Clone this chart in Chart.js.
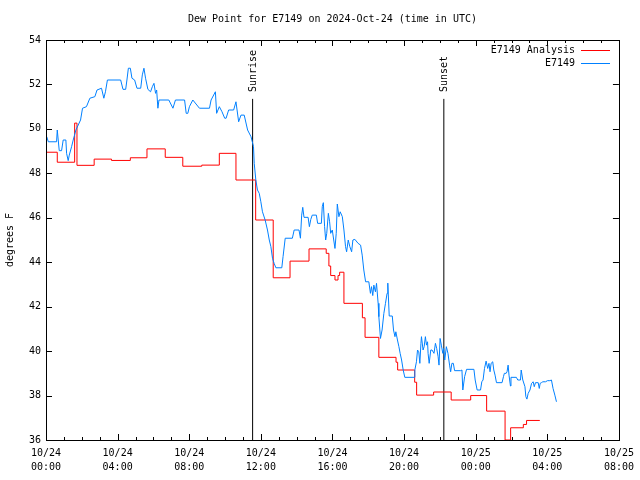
<!DOCTYPE html>
<html>
<head>
<meta charset="utf-8">
<script src="https://cdn.jsdelivr.net/npm/chart.js@4.4.1/dist/chart.umd.min.js"></script>
<style>
  html, body { margin: 0; padding: 0; background: #fff; }
  canvas { display: block; }
</style>
</head>
<body>
<canvas id="chart" width="640" height="480"></canvas>
<script>
// Dew point for E7149, 2024-10-24 (hours since 10/24 00:00 UTC, degrees F)

const TITLE = "Dew Point for E7149 on 2024-Oct-24 (time in UTC)";
const Y_LABEL = "degrees F";
const FONT = "10px 'DejaVu Sans Mono', monospace";

const xTickDates = ["10/24", "10/24", "10/24", "10/24", "10/24", "10/24", "10/25", "10/25", "10/25"];
const xTickTimes = ["00:00", "04:00", "08:00", "12:00", "16:00", "20:00", "00:00", "04:00", "08:00"];

const seriesNames = ["E7149 Analysis", "E7149"];
const seriesColors = ["#ff0000", "#0080ff"];

const sunLabels = ["Sunrise", "Sunset"];
const sunHours = [11.54, 22.22];
const sunLineTop = 51.35;

// analysis is a step series: each value holds until the next hour listed
const analysisSteps = [
  [0.00, 48.95], [0.63, 48.5], [1.60, 50.26], [1.73, 48.36], [2.69, 48.64],
  [3.66, 48.58], [4.71, 48.7], [5.64, 49.1], [6.66, 48.72], [7.64, 48.32],
  [8.70, 48.37], [9.68, 48.9], [10.61, 47.7], [11.71, 45.9], [12.69, 43.3],
  [13.63, 44.05], [14.69, 44.6], [15.65, 44.4], [15.80, 43.83], [15.90, 43.4],
  [16.14, 43.2], [16.31, 43.4], [16.40, 43.55], [16.64, 42.15], [17.67, 41.5],
  [17.82, 40.62], [18.59, 39.72], [19.55, 39.5], [19.64, 39.15], [20.59, 38.6],
  [20.70, 38.02], [21.65, 38.16], [22.63, 37.8], [23.72, 38.0], [24.61, 37.3],
  [25.64, 36.0], [25.95, 36.55], [26.66, 36.7], [26.84, 36.88], [27.58, 36.88],
];

const stationReadings = [
  [0.04, 49.65], [0.13, 49.42], [0.59, 49.42], [0.63, 49.95], [0.74, 49.02],
  [0.87, 49.02], [0.96, 49.5], [1.11, 49.5], [1.15, 48.9], [1.24, 48.57],
  [1.30, 48.82], [1.43, 49.2], [1.52, 49.5], [1.67, 49.95], [1.93, 50.4],
  [2.04, 50.93], [2.26, 51.0], [2.45, 51.38], [2.73, 51.45], [2.85, 51.75],
  [3.10, 51.83], [3.23, 51.38], [3.32, 51.67], [3.43, 52.2], [4.17, 52.2],
  [4.30, 51.78], [4.45, 51.78], [4.52, 52.2], [4.60, 52.73], [4.71, 52.73],
  [4.80, 52.28], [4.95, 52.2], [5.08, 51.83], [5.29, 51.83], [5.38, 52.43],
  [5.47, 52.73], [5.56, 52.28], [5.69, 51.78], [5.84, 51.67], [5.94, 51.9],
  [6.03, 52.05], [6.12, 51.6], [6.18, 51.75], [6.25, 50.93], [6.31, 51.3],
  [6.86, 51.3], [7.09, 50.93], [7.23, 51.3], [7.74, 51.3], [7.83, 50.7],
  [7.92, 50.7], [8.01, 51.0], [8.20, 51.3], [8.57, 50.93], [9.13, 50.93],
  [9.22, 51.3], [9.46, 51.67], [9.53, 50.7], [9.68, 51.0], [9.83, 50.77],
  [9.98, 50.48], [10.06, 50.48], [10.20, 50.85], [10.48, 50.85], [10.61, 51.22],
  [10.76, 50.32], [10.89, 50.62], [11.07, 50.62], [11.26, 49.95], [11.45, 49.65],
  [11.59, 49.2], [11.63, 48.45], [11.72, 47.7], [11.81, 47.25], [11.91, 47.1],
  [12.00, 46.72], [12.09, 46.27], [12.24, 45.9], [12.37, 45.45], [12.47, 45.0],
  [12.56, 44.7], [12.65, 44.18], [12.74, 43.95], [12.84, 43.75], [13.17, 43.75],
  [13.24, 44.25], [13.36, 45.08], [13.76, 45.08], [13.86, 45.45], [14.13, 45.45],
  [14.21, 45.08], [14.28, 46.12], [14.34, 46.47], [14.41, 46.02], [14.64, 46.02],
  [14.71, 45.6], [14.79, 45.93], [14.87, 46.12], [15.10, 46.12], [15.17, 45.75],
  [15.38, 45.75], [15.43, 46.5], [15.49, 46.68], [15.56, 45.6], [15.62, 45.0],
  [15.68, 45.3], [15.77, 46.2], [15.84, 45.82], [15.90, 45.3], [15.99, 45.45],
  [16.07, 45.0], [16.14, 44.62], [16.21, 45.3], [16.27, 46.62], [16.36, 46.05],
  [16.43, 46.27], [16.55, 46.05], [16.64, 45.45], [16.73, 44.7], [16.79, 44.47],
  [16.88, 45.0], [16.97, 44.7], [17.07, 44.47], [17.14, 45.0], [17.25, 45.03],
  [17.43, 44.85], [17.57, 44.77], [17.66, 44.32], [17.75, 43.65], [17.85, 43.12],
  [18.03, 43.12], [18.12, 42.6], [18.18, 42.9], [18.25, 42.5], [18.31, 42.97],
  [18.40, 42.67], [18.46, 43.05], [18.55, 42.15], [18.59, 41.55], [18.68, 40.57],
  [18.77, 40.95], [18.87, 41.7], [18.96, 42.15], [19.05, 42.6], [19.09, 43.06],
  [19.17, 41.58], [19.34, 41.58], [19.41, 40.95], [19.49, 40.65], [19.54, 40.87],
  [19.63, 40.5], [19.71, 40.2], [19.78, 39.9], [19.86, 39.6], [19.95, 39.15],
  [20.04, 38.82], [20.56, 38.82], [20.60, 39.15], [20.69, 39.52], [20.75, 40.05],
  [20.82, 39.97], [20.88, 39.45], [20.94, 40.35], [20.97, 40.65], [21.06, 40.05],
  [21.12, 40.2], [21.19, 40.65], [21.25, 40.27], [21.31, 40.42], [21.34, 39.9],
  [21.40, 39.45], [21.49, 40.05], [21.56, 40.05], [21.67, 39.9], [21.75, 40.35],
  [21.82, 40.12], [21.90, 39.75], [21.95, 39.37], [22.01, 40.57], [22.08, 40.27],
  [22.16, 39.9], [22.21, 40.12], [22.27, 39.6], [22.36, 40.2], [22.45, 39.9],
  [22.54, 39.37], [22.60, 39.07], [22.67, 39.45], [22.75, 39.45], [22.82, 39.12],
  [23.16, 39.12], [23.23, 39.15], [23.28, 38.25], [23.38, 38.85], [23.49, 39.18],
  [23.90, 39.18], [23.97, 38.7], [24.08, 38.25], [24.27, 38.25], [24.34, 38.62],
  [24.41, 38.7], [24.49, 39.22], [24.58, 39.55], [24.67, 39.22], [24.74, 39.45],
  [24.80, 39.07], [24.86, 39.45], [24.95, 39.52], [25.01, 39.15], [25.08, 38.92],
  [25.16, 38.58], [25.47, 38.58], [25.55, 38.85], [25.60, 39.0], [25.70, 39.0],
  [25.75, 39.07], [25.81, 39.37], [25.86, 38.92], [25.94, 38.43], [25.97, 38.82],
  [26.27, 38.82], [26.35, 38.7], [26.50, 38.7], [26.54, 39.15], [26.63, 38.7],
  [26.75, 38.4], [26.80, 37.95], [26.86, 37.84], [26.93, 38.1], [27.03, 38.25],
  [27.12, 38.55], [27.21, 38.62], [27.27, 38.4], [27.34, 38.58], [27.49, 38.58],
  [27.55, 38.32], [27.60, 38.55], [27.67, 38.58], [27.75, 38.62], [27.90, 38.62],
  [28.01, 38.67], [28.14, 38.67], [28.23, 38.7], [28.32, 38.32], [28.42, 38.02],
  [28.51, 37.72],
];

const toXY = (pairs) => pairs.map(([x, y]) => ({ x, y }));

// gnuplot-ish frame: box, inward ticks on all sides, title, key, sun labels
const frame = {
  id: "frame",
  afterDraw(chart) {
    const { ctx, chartArea: a, scales } = chart;
    const xs = scales.x, ys = scales.y;
    ctx.save();
    ctx.strokeStyle = "#000";
    ctx.lineWidth = 1;
    ctx.beginPath();
    for (let h = 0; h <= 32; h++) {
      const px = Math.round(xs.getPixelForValue(h)) + 0.5;
      const len = h % 4 === 0 ? 6 : 3;
      ctx.moveTo(px, a.bottom); ctx.lineTo(px, a.bottom - len);
      ctx.moveTo(px, a.top); ctx.lineTo(px, a.top + len);
    }
    for (let v = 36; v <= 54; v += 2) {
      const py = Math.round(ys.getPixelForValue(v)) + 0.5;
      ctx.moveTo(a.left, py); ctx.lineTo(a.left + 6, py);
      ctx.moveTo(a.right, py); ctx.lineTo(a.right - 6, py);
    }
    ctx.stroke();
    ctx.strokeRect(Math.round(a.left) + 0.5, Math.round(a.top) + 0.5,
      Math.round(a.right - a.left), Math.round(a.bottom - a.top));

    ctx.fillStyle = "#000";
    ctx.font = FONT;
    ctx.textBaseline = "middle";
    ctx.textAlign = "center";
    ctx.fillText(TITLE, (a.left + a.right) / 2, 19);

    ctx.save();
    ctx.translate(10, 240);
    ctx.rotate(-Math.PI / 2);
    ctx.fillText(Y_LABEL, 0, 0);
    ctx.restore();

    sunLabels.forEach((label, i) => {
      const px = xs.getPixelForValue(sunHours[i]) + 1;
      ctx.save();
      ctx.translate(px, 92);
      ctx.rotate(-Math.PI / 2);
      ctx.textAlign = "left";
      ctx.fillText(label, 0, 0);
      ctx.restore();
    });

    seriesNames.forEach((name, i) => {
      const y = 50 + i * 13;
      ctx.textAlign = "right";
      ctx.fillText(name, 575, y);
      ctx.strokeStyle = seriesColors[i];
      ctx.beginPath();
      ctx.moveTo(581, y + 0.5);
      ctx.lineTo(610, y + 0.5);
      ctx.stroke();
    });
    ctx.restore();
  },
};

const sunDatasets = sunHours.map((h) => ({
  data: [{ x: h, y: 36 }, { x: h, y: sunLineTop }],
  borderColor: "#000",
  borderWidth: 1,
  pointRadius: 0,
}));

new Chart(document.getElementById("chart"), {
  type: "line",
  data: {
    datasets: [
      {
        label: seriesNames[1],
        data: toXY(stationReadings),
        borderColor: seriesColors[1],
        borderWidth: 1,
        pointRadius: 0,
        tension: 0,
      },
      {
        label: seriesNames[0],
        data: toXY(analysisSteps),
        borderColor: seriesColors[0],
        borderWidth: 1,
        pointRadius: 0,
        stepped: true,
      },
      ...sunDatasets,
    ],
  },
  options: {
    responsive: false,
    animation: false,
    layout: { padding: { left: 0, top: 40, right: 19, bottom: 0 } },
    plugins: { legend: { display: false }, tooltip: { enabled: false }, title: { display: false } },
    scales: {
      x: {
        type: "linear",
        min: 0,
        max: 32,
        afterFit: (s) => { s.height = 40; },
        grid: { display: false, drawTicks: false },
        border: { display: false },
        ticks: {
          stepSize: 4,
          autoSkip: false,
          maxRotation: 0,
          padding: 6,
          color: "#000",
          font: { family: "'DejaVu Sans Mono', monospace", size: 10, lineHeight: "14px" },
          callback: (v, i) => [xTickDates[i], xTickTimes[i]],
        },
      },
      y: {
        min: 36,
        max: 54,
        afterFit: (s) => { s.width = 46; },
        grid: { display: false, drawTicks: false },
        border: { display: false },
        ticks: {
          stepSize: 2,
          padding: 5,
          color: "#000",
          font: { family: "'DejaVu Sans Mono', monospace", size: 10 },
        },
      },
    },
  },
  plugins: [frame],
});
</script>
</body>
</html>
